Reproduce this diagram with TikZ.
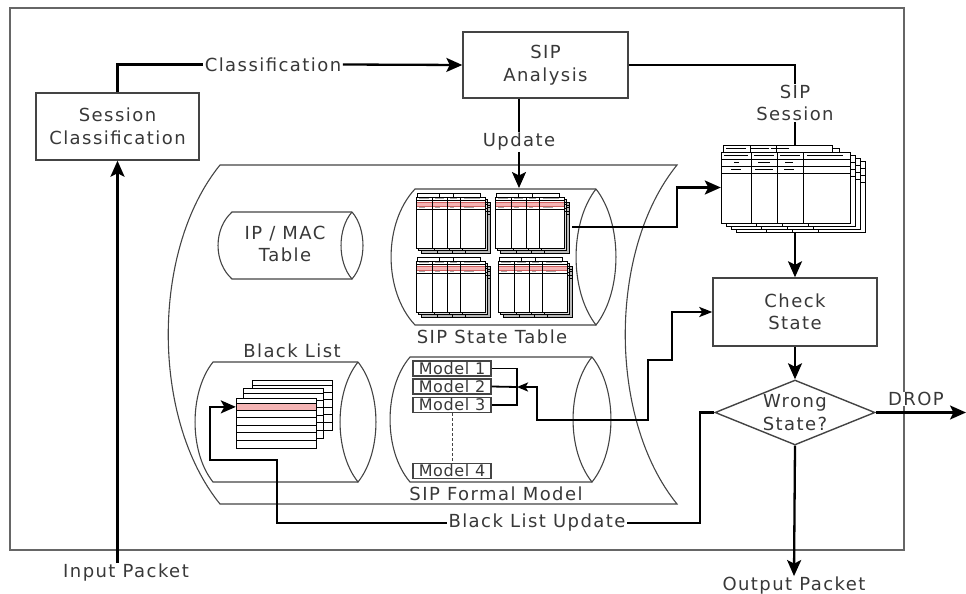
\documentclass[tikz,border=0pt]{standalone}
\usepackage{fontspec}
\setmainfont{DejaVu Sans}[LetterSpace=8]
\usetikzlibrary{arrows.meta,shapes.geometric,calc}

\definecolor{ink}{HTML}{383838}
\definecolor{edge}{HTML}{444444}
\definecolor{rowpink}{HTML}{F4B4B4}
\definecolor{rowred}{HTML}{D06060}

\tikzset{
  lbl/.style={font=\fontsize{18}{22.5}\selectfont, text=ink, align=center, inner sep=1pt},
  onwire/.style={lbl, fill=white, inner sep=1.5pt},
  procbox/.style={rectangle, draw=edge, line width=1.4pt, fill=white, lbl},
  decision/.style={diamond, draw=edge, line width=1.4pt, fill=white, inner sep=0pt,
    minimum width=160pt, minimum height=65pt},
  wire/.style={draw=black, line width=2.3pt},
  flow/.style={wire, -{Stealth[length=16pt,width=14pt,inset=3.5pt]}},
  store/.style={draw=edge, line width=1.1pt},
  sheetline/.style={draw=black, line width=0.9pt},
  modelbox/.style={rectangle, draw=edge, line width=1.3pt, fill=white, minimum width=78pt,
    minimum height=15pt, inner sep=0pt,
    font=\fontsize{16}{15}\selectfont\addfontfeatures{LetterSpace=4}, text=ink},
  frameline/.style={draw=gray!80!black, line width=1.3pt},
  anchorbox/.style={rectangle, inner sep=0pt},
}

% horizontal drum: #1 left corner x, #2 end-lens x, #3 top, #4 bottom, #5 left bulge, #6 lens half width
\newcommand\drumshape[6]{%
  \draw[store] (#2,#3) -- (#1,#3)
     .. controls ({#1-1.33*#5},{#3+0.25*(#4-#3)}) and ({#1-1.33*#5},{#4-0.25*(#4-#3)}) .. (#1,#4)
     -- (#2,#4);
  \draw[store] (#2,#3)
     .. controls ({#2-1.33*#6},{#3+0.25*(#4-#3)}) and ({#2-1.33*#6},{#4-0.25*(#4-#3)}) .. (#2,#4)
     .. controls ({#2+1.33*#6},{#4-0.25*(#4-#3)}) and ({#2+1.33*#6},{#3+0.25*(#4-#3)}) .. (#2,#3);
}

% one stack of small state sheets, front sheet top-left at (#1,#2)
\newcommand\statestack[2]{%
  \foreach \off/\shade in {5/gray!55,2.5/gray!30} {
    \fill[\shade] ({#1+\off},{#2+\off}) rectangle ++(69,51);
    \draw[sheetline] ({#1+\off},{#2+\off}) rectangle ++(69,51);
    \foreach \cx in {16,31,44} \draw[sheetline] ({#1+\off+\cx},{#2+\off}) -- ++(0,51);
    \foreach \ry in {3,5,9,12} \draw[sheetline, line width=0.4pt] ({#1+\off+66},{#2+\off+\ry}) -- ++(3,0);
  }
  \draw[sheetline, fill=white] ({#1+1},{#2-4}) rectangle ++(22,4)
                               ({#1+23},{#2-4}) rectangle ++(14,4)
                               ({#1+37},{#2-4}) rectangle ++(27,4);
  \fill[white] (#1,#2) rectangle ++(69,51);
  \fill[rowpink] (#1,{#2+5}) rectangle ++(69,4);
  \draw[rowred, line width=0.5pt] (#1,{#2+5}) -- ++(69,0) (#1,{#2+9}) -- ++(69,0);
  \draw[sheetline] (#1,#2) rectangle ++(69,51);
  \foreach \cx in {16,31,44} \draw[sheetline] ({#1+\cx},#2) -- ++(0,51);
  \draw[sheetline] (#1,{#2+3}) -- ++(69,0) (#1,{#2+12}) -- ++(69,0);
  \foreach \cx/\w in {3/10,19/9,34/7,48/16}
    \draw[gray!70, line width=1pt] ({#1+\cx},{#2+1.5}) -- ++(\w,0) ({#1+\cx},{#2+10.5}) -- ++(\w*0.6,0);
}

% one sheet of the session table, top-left at (#1,#2)
\newcommand\sessionsheet[2]{%
  \draw[sheetline, fill=white] (#1,#2) rectangle ++(129,71);
  \foreach \cx in {30,56,82} \draw[sheetline] ({#1+\cx},#2) -- ++(0,71);
  \foreach \ry in {7,14,21} \draw[sheetline] (#1,{#2+\ry}) -- ++(129,0);
}

% one sheet of the black list, top-left at (#1,#2)
\newcommand\listsheet[2]{%
  \draw[sheetline, fill=white] (#1,#2) rectangle ++(80,50);
  \foreach \ry in {5,12,19.5,27,34.5,42} \draw[sheetline] (#1,{#2+\ry}) -- ++(80,0);
}

\begin{document}
\begin{tikzpicture}[x=1pt,y=-1pt]
\useasboundingbox (0,0) rectangle (966,594);

% outer frame
\draw[frameline] (10,8) rectangle (904,550);

% storage area
\draw[store] (220,165) -- (677,165)
   .. controls (608,250) and (608,419) .. (677,504) -- (220,504)
   .. controls (151,419) and (151,250) .. cycle;

\drumshape{232}{352}{212}{279}{14}{11}
\drumshape{415}{596}{189}{325}{24}{20}
\drumshape{213}{358}{362}{482}{18}{18}
\drumshape{410}{592}{357}{482}{20}{19}

% state table sheets
\statestack{416}{197}
\statestack{495}{197}
\statestack{416}{261}
\statestack{498}{261}

% session table
\sessionsheet{736}{161}
\sessionsheet{731}{158.5}
\sessionsheet{726}{155}
\draw[sheetline, fill=white] (832,148) -| (839,152) -- (832,152);
\draw[sheetline, fill=white] (723,145) rectangle (750,152) (750,145) rectangle (776,152) (776,145) rectangle (832,152);
\sessionsheet{721}{152}
\foreach \cx/\w in {3/24,33/20,59/20,86/36} \draw[black, line width=1.3pt] ({721+\cx},155.5) -- ++(\w,0);
\foreach \cx/\w in {13/5,37/12,64/8} \draw[black, line width=1.3pt] ({721+\cx},162.5) -- ++(\w,0);
\foreach \cx/\w in {10/10,34/18,63/10} \draw[black, line width=1.3pt] ({721+\cx},169.5) -- ++(\w,0);
\foreach \cx/\w in {3/22,28/20,48/20} \draw[black, line width=1pt] ({723+\cx},148.5) -- ++(\w*0.9,0);
\node[anchorbox, minimum width=129pt, minimum height=71pt] (sesstab) at (785.5,187.5) {};

% black list sheets
\listsheet{252}{380}
\listsheet{243}{388}
\fill[white] (236,398) rectangle ++(80,50);
\fill[rowpink] (236,403) rectangle ++(80,7);
\listsheet{236}{398}
\fill[rowpink] (236.5,403.5) rectangle ++(79,6);
\node[anchorbox, minimum width=80pt, minimum height=50pt] (blfront) at (276,423) {};

% formal models
\node[modelbox] (m1) at (452,368.5) {Model 1};
\node[modelbox] (m2) at (452,386.5) {Model 2};
\node[modelbox] (m3) at (452,405) {Model 3};
\node[modelbox] (m4) at (452,471) {Model 4};
\draw[draw=edge, line width=1pt, dash pattern=on 3pt off 2pt] (m3.south) -- (m4.north);

% process boxes
\node[procbox, minimum width=163pt, minimum height=67pt] (sess) at (117.5,126.5) {Session\\Classification};
\node[procbox, minimum width=165pt, minimum height=66pt] (ana) at (545.5,65) {SIP\\Analysis};
\node[procbox, minimum width=164pt, minimum height=68pt] (chk) at (795,312) {Check\\State};
\node[decision] (dia) at (795,412.5) {};
\node[lbl] at (dia) {Wrong\\State?};

% store captions
\node[lbl] (ipmac) at (285,244) {IP / MAC\\Table};
\node[lbl] (sstl) at (492,337) {SIP State Table};
\node[lbl] (bll) at (292,351) {Black List};
\node[lbl] (sfml) at (496,494) {SIP Formal Model};

% connector ends
\coordinate (sstin) at (519,188);
\coordinate (sstout) at (572,227);
\coordinate (sesstop) at (795,145);
\coordinate (sessbot) at (795,232);
\coordinate (mbr) at (517,387);
\coordinate (blin) at ($(blfront.north west)!0.18!(blfront.south west)$);
\coordinate (dropend) at (966,412.5);

% flow labels
\node[onwire] (clsl) at (273,64.5) {Classification};
\node[lbl] (upd) at (519,142) {Update};
\node[lbl] (sessl) at (795,103) {SIP\\Session};
\node[onwire] (blu) at (537,523) {Black List Update};
\node[lbl] (inl) at (126,573) {Input Packet};
\node[lbl] (outl) at (794,586) {Output Packet};

% connectors
\draw[flow] (inl.north -| sess.south) -- (sess.south);
\draw[wire] (sess.north) |- (clsl.west);
\draw[flow] (clsl.east) -- (ana.west);
\draw[wire] (ana.south -| upd) -- (upd.north);
\draw[flow] (upd.south) -- (sstin);
\draw[wire] (ana.east) -| (sessl.north);
\draw[wire] (sessl.south) -- (sesstop);
\draw[flow] (sstout) -- (677,227) |- (sesstab.west);
\draw[flow] (sessbot) -- (chk.north);
\draw[flow] (chk.south) -- (dia.north);
\draw[wire, line width=1.8pt] (m1.east) -- ++(25,0) |- (m3.east);
\draw[wire, line width=1.8pt] (m2.east) -- (mbr);
\draw[wire, {Stealth[length=11pt,width=9pt,inset=2.5pt]}-{Stealth[length=13pt,width=10pt,inset=3pt]}]
  (mbr) -- (537,387) -- (537,420) -- (648,420) -- (648,360) -- (672,360) |- (chk.west);
\draw[wire] (dia.west) -- (700,412.5) |- (blu.east);
\draw[wire, -{Stealth[length=15pt,width=13pt,inset=3.5pt]}]
  (blu.west) -- (277,523) -- (277,460) -- (210,460) |- (blin);
\draw[flow] (dia.east) -- (dropend);
\node[onwire, inner sep=0.5pt] (dropl) at (916,399) {DROP};
\draw[flow] (dia.south) -- (outl.north);
\end{tikzpicture}
\end{document}
